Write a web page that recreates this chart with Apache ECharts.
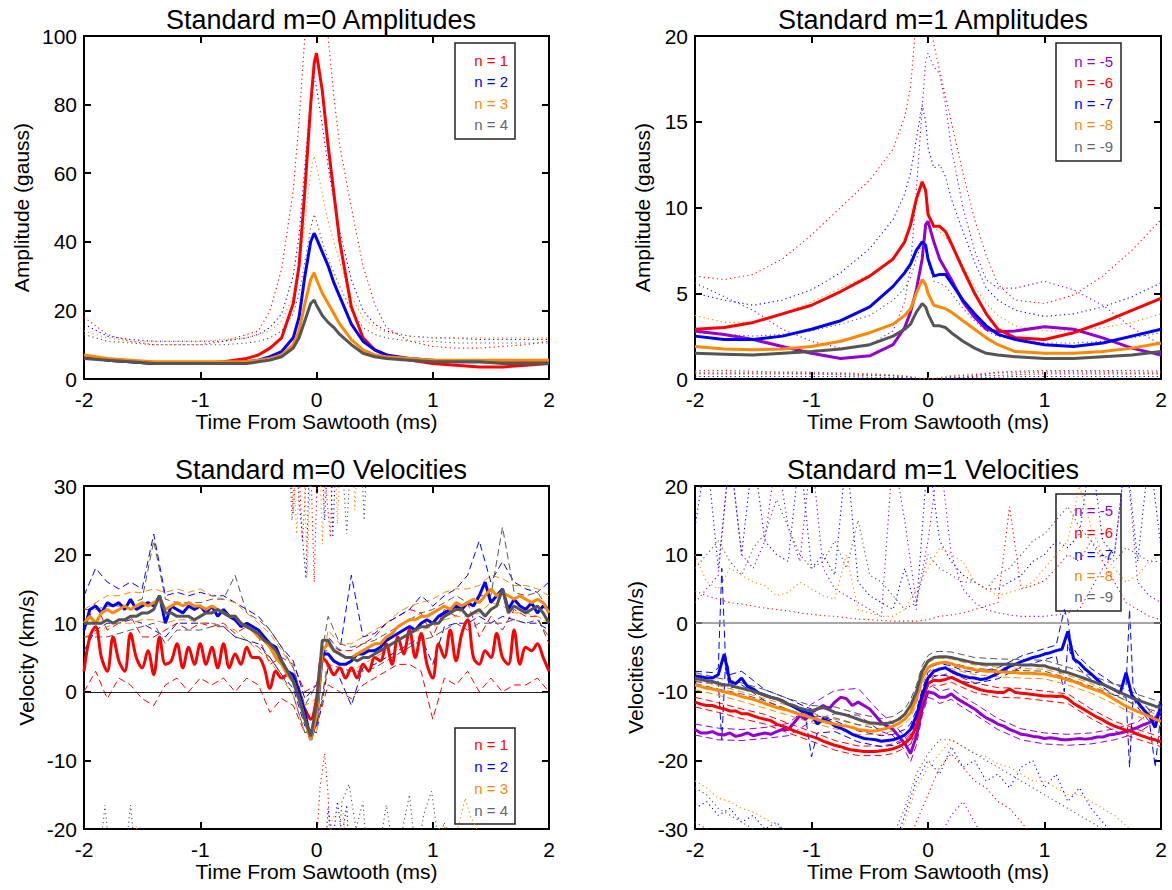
<!DOCTYPE html>
<html><head><meta charset="utf-8">
<script src="https://cdn.jsdelivr.net/npm/echarts@6/dist/echarts.min.js"></script>
<style>html,body{margin:0;padding:0;background:#fff}#c{width:1172px;height:890px}</style>
</head><body><div id="c"></div>
<script>
// ================= DATA =================
const xTicks = [-2, -1, 0, 1, 2];
// ---- Panel 1: Standard m=0 Amplitudes ----
const t1 = [-2,-1.8,-1.6,-1.4,-1.2,-1,-0.8,-0.6,-0.5,-0.4,-0.3,-0.2,-0.15,-0.1,-0.05,-0.02,0,0.05,0.1,0.15,0.2,0.3,0.4,0.5,0.6,0.8,1,1.2,1.4,1.6,1.8,2];
const p1_n1 = [6.5,5.5,5,4.5,4.5,4.5,5,6,7,9,12,22,33,55,80,92,95,84,68,54,40,21,12,8.5,7,5.5,4.5,4,3.5,3.5,4,4.5];
const p1_n2 = [6.5,5.5,5,4.5,4.5,4.5,4.5,5,5.5,6.5,8,12,18,30,40,42.5,41,37,33,28,24,16,11,8.5,7,6,5.5,5,5,5,5,5];
const p1_n3 = [7,6,5.5,5,5,5,5,5,5.5,6,7,10,14,22,29,31,29,25,22,19,16,11.5,8.5,7,6.5,6,5.5,5.5,5.5,5.5,5.5,5.5];
const p1_n4 = [6,5.5,5,4.5,4.5,4.5,4.5,4.5,5,5.5,6.5,9,12,17,22,23,21.5,18.5,16.5,15,13,10,7.5,6.5,6,5.5,5,5,5,4.5,4.5,4.5];
const p1_n1_dot = [18,13,11,10,10,10,11,13,14,20,32,55,75,100,130,138,140,130,100,82,68,50,33,22,15,11,9.5,9,9,9.5,10,11];
const p1_n2_dot = [16,12.5,11.5,11,11,11,11,12,13,15,19,30,42,62,82,88,85,74,62,52,43,29,20,16,14,12.5,12,12,11.5,11.5,11.5,11.5];
const p1_n3_dot = [14,12,11,11,11,11,11.5,12,13,14,17,24,32,45,60,65,62,54,46,40,34,24,18,15,13.5,12.5,12,12,12,12,12,12];
const p1_n4_dot = [13,11,10.5,10,10,10,10,10.5,11,12,14,19,25,34,44,48,46,40,35,31,27,20,15,13,12,11,11,10.5,10.5,10.5,10.5,10.5];

// ---- Panel 2: Standard m=1 Amplitudes ----
const t2 = [-2,-1.75,-1.5,-1.25,-1,-0.75,-0.5,-0.3,-0.2,-0.15,-0.1,-0.05,-0.02,0,0.05,0.1,0.15,0.2,0.3,0.4,0.5,0.6,0.75,1,1.25,1.5,1.75,2];
const p2_n5 = [2.8,2.6,2.3,1.9,1.5,1.2,1.35,2.0,3.0,3.9,5.2,7.0,9.0,9.2,8.0,7.0,6.4,5.8,4.5,3.6,2.9,2.75,2.8,3.05,2.9,2.4,1.8,1.4];
const p2_n6 = [2.9,3.0,3.3,3.8,4.3,5.1,6.0,7.0,8.0,9.0,10.5,11.5,11.0,9.6,8.9,8.9,8.6,7.9,6.4,5.0,3.8,2.9,2.4,2.3,2.7,3.3,4.0,4.7];
const p2_n7 = [2.5,2.3,2.3,2.5,2.9,3.4,4.2,5.4,6.2,6.7,7.5,8.0,7.8,7.0,6.0,6.1,6.1,5.6,4.6,3.8,3.1,2.6,2.3,2.0,1.9,2.1,2.5,2.9];
const p2_n8 = [1.9,1.75,1.7,1.75,1.9,2.2,2.7,3.2,3.7,4.1,5.0,5.8,5.5,5.0,4.3,4.2,4.1,3.9,3.4,2.9,2.4,2.0,1.6,1.5,1.5,1.6,1.8,2.1];
const p2_n9 = [1.5,1.45,1.4,1.5,1.6,1.75,2.0,2.5,2.9,3.2,3.9,4.4,4.2,3.8,3.1,3.1,3.0,2.7,2.2,1.8,1.5,1.4,1.3,1.2,1.2,1.3,1.4,1.6];
const p2_n5_dot = [5.6,4.8,4.0,2.9,2.2,1.8,2.0,2.8,4.5,6.5,11,15.8,18.5,19,18.2,17.8,16,13.5,10,7.5,5.8,5.3,5.3,5.7,5.2,4.3,3.0,2.0];
const p2_n6_dot = [6.0,5.8,6.1,7.0,8.4,10.0,11.6,13.4,15.3,17,21,24,24,22,19.5,18,16.5,15,12,9.3,7.2,5.5,4.6,4.4,4.9,6.0,7.5,9.3];
const p2_n7_dot = [5.0,4.6,4.3,4.6,5.2,6.2,7.6,9.3,10.8,12,14,16,15,13.5,12.3,12.5,11.8,10.5,8.6,6.8,5.3,4.6,4.0,3.65,3.8,4.2,4.8,5.6];
const p2_n8_dot = [3.7,3.3,3.3,3.8,4.5,5.3,6.1,7.0,8.0,8.8,10,11.5,11,10,8.8,8.6,8.3,7.8,6.6,5.4,4.4,3.7,3.1,2.8,2.8,3.0,3.3,3.8];
const p2_n9_dot = [2.7,2.6,2.5,2.6,2.8,3.2,3.7,4.6,5.3,5.9,7.0,8.0,7.6,6.8,5.7,5.6,5.4,5.0,4.1,3.4,2.8,2.5,2.3,2.1,2.1,2.2,2.4,2.7];
const p2_n5_low = [0.5,0.5,0.45,0.4,0.4,0.35,0.3,0.2,0.05,0,0,0,0,0,0,0,0,0,0.1,0.2,0.3,0.4,0.45,0.5,0.5,0.5,0.5,0.45];
const p2_n6_low = [0.3,0.3,0.3,0.3,0.3,0.25,0.2,0.2,0.15,0.1,0.05,0,0,0,0,0,0.05,0.1,0.1,0.15,0.2,0.2,0.25,0.3,0.3,0.3,0.3,0.3];
const p2_n7_low = [0.15,0.15,0.15,0.15,0.15,0.15,0.1,0.1,0.05,0.05,0,0,0,0,0,0,0,0.05,0.05,0.1,0.1,0.1,0.15,0.15,0.15,0.15,0.15,0.15];
const p2_n8_low = [0.4,0.4,0.4,0.4,0.35,0.35,0.3,0.25,0.2,0.15,0.1,0.05,0.05,0.05,0.05,0.1,0.15,0.2,0.25,0.3,0.35,0.4,0.4,0.45,0.45,0.45,0.4,0.4];
const p2_n9_low = [0.35,0.35,0.35,0.35,0.3,0.3,0.25,0.2,0.15,0.1,0.05,0,0,0,0,0.05,0.1,0.15,0.2,0.25,0.3,0.35,0.35,0.4,0.4,0.4,0.35,0.35];

// ---- time grids for velocity panels ----
const tFine = [-2,-1.95,-1.9,-1.85,-1.8,-1.75,-1.7,-1.65,-1.6,-1.55,
 -1.5,-1.45,-1.4,-1.35,-1.3,-1.25,-1.2,-1.15,-1.1,-1.05,
 -1,-0.95,-0.9,-0.85,-0.8,-0.75,-0.7,-0.65,-0.6,-0.55,
 -0.5,-0.45,-0.4,-0.35,-0.3,-0.25,-0.2,-0.15,-0.1,-0.05,
 0,
 0.05,0.1,0.15,0.2,0.25,0.3,0.35,0.4,0.45,0.5,
 0.55,0.6,0.65,0.7,0.75,0.8,0.85,0.9,0.95,1,
 1.05,1.1,1.15,1.2,1.25,1.3,1.35,1.4,1.45,1.5,
 1.55,1.6,1.65,1.7,1.75,1.8,1.85,1.9,1.95,2];
const tMid = [-2,-1.9,-1.8,-1.7,-1.6,-1.5,-1.4,-1.3,-1.2,-1.1,
 -1,-0.9,-0.8,-0.7,-0.6,-0.5,-0.4,-0.3,-0.2,-0.1,
 0,
 0.1,0.2,0.3,0.4,0.5,0.6,0.7,0.8,0.9,1,
 1.1,1.2,1.3,1.4,1.5,1.6,1.7,1.8,1.9,2];

// ---- Panel 3: Standard m=0 Velocities ----
const p3_n1 = [3,8,9.5,5,3,8,4.5,3,8.5,5, 3.5,6,2.5,8,4,4.5,7,3.5,6.5,4, 7,4,6.5,3.5,7,3.5,5.5,4,6.5,5, 5,3.5,0.5,3,2,2.5,1.5,-1,-2.5,-4, -1, 5,4,2.5,3.5,2,3.5,2,4,3,5, 4.5,7,4,8,5.5,9,5,8.5,4,2, 7,5,9,4.5,8.5,10.5,5,4,6,5, 8.5,5,4,9,4,6.5,6,7,5,3];
const p3_n2 = [9,12,12.5,11.5,13,12.5,13,12,13.5,12, 12.5,13,12.5,14,10,12.5,12,11.5,12.5,12, 12.5,11.5,12.5,11,12,11,10.5,9.5,10,9.5, 9,8,7,6.5,4.5,3,2.5,0,-3,-7, -4, 5.5,5.5,4.5,4,4,4.5,5.5,5.5,6,6, 6.5,7.5,8,8.5,9,9.5,9,10,10.5,10, 11,11.5,12,12.5,12,13,12.5,14,16,13, 14,15,12,13.5,12.5,12,13,11.5,12.5,12];
const p3_n3 = [10,11,10,11.5,12,11.5,12,12.5,12,12.5, 13,12.5,13,13.5,12,12.5,13,12.5,13,12.5, 12.5,12,12.5,12,11.5,11,11,10,9.5,9, 8,7.5,6.5,5,4,2.5,1.5,-1,-4,-7, -3.5, 6,7,6,5.5,5,5,5.5,6,6.5,7, 7,8,8.5,9.5,10,10.5,10.5,11,11,11.5, 12,12.5,12,13,12.5,13,13.5,13,14,15, 14,14.5,14,13.5,14,13.5,13,13.5,13,11.5];
const p3_n4 = [10,10,10,10,10.5,10,10.5,10.5,11,11, 11.5,11.5,12,14,11.5,11.5,11,11,11,10.5, 11,11.5,11.5,12,11.5,11,11,10,9.5,9, 8.5,7.5,7,6,4.5,3,1.5,-1,-4,-6.5, -2, 7.5,7.5,6,5.5,5,5,4.5,5,5,5.5, 6,6.5,7,7.5,8,8.5,9,9.5,9.5,10, 10,11,11.5,12,12,11,11.5,12,11,12, 12.5,15,11.5,12.5,12,11.5,12,12.5,11.5,10];
const p3_n1_up = [9,13,9,10,11,8,8,9,10,9,10,9.5,10,8.5,9.5,8,4,5,4,0,1,7,6,6,7,8,10,11,12,11.5,8,12,11,13,8,11,9,12,11,11,7];
const p3_n1_lo = [0,3,-1,2,1,-1,-2,1,2,0,2,1,2,0,2,1,-3,-1,-2,-6,-5,1,0,-1,1,2,3,4,4,3,-4,2,1,3,0,2,0,1,1,2,0];
const p3_n2_up = [14,18,16,15,16,15,23,14,14.5,14,14.5,14,14,13,12,11,9,6.5,4.5,-1,1,8,6,17,8,8.5,10,11,12,14,12.5,14,15,17,22,16,19,16,15,14.5,16];
const p3_n2_lo = [6,9,10,10,10.5,10,9,8,10,10,10,10,9.5,8,7.5,7,5,2.5,0.5,-5,-6,3.5,2,-2,3.5,4,5,6,7,8,4,9.5,10,10,11,10,11,10.5,10,10,9];
const p3_n3_up = [12,13,14,14,14.5,14.5,15,14.5,15,14.5,15,14,13.5,13,11.5,10,8.5,6,3.5,-2,-1,9,7,7,8,9,10,11.5,12.5,13,13.5,14.5,15,15,15.5,17,16.5,15.5,15.5,15,14];
const p3_n3_lo = [8,8.5,9.5,10,10,10.5,10.5,10,10.5,10.5,10,10,9.5,9,7.5,6,4.5,2,-0.5,-6,-6,5,3.5,3,4,5,6,7.5,8.5,9,9.5,10.5,11,11,11.5,13,12.5,11.5,11.5,11,10];
const p3_n4_up = [12,12,12.5,12.5,13,13.5,22,13.5,13,13,13,13.5,13.5,17,11.5,10.5,9,6.5,3.5,-2,1,11,7,6.5,7,7.5,8.5,9.5,10.5,11.5,12,13,14,13,14,14,24,14.5,14,14.5,12];
const p3_n4_lo = [8,8,8,8.5,9,9.5,10,7,9,9,9,9.5,9.5,8,7.5,6.5,5,2.5,-0.5,-6,-5,4,3.5,3,3,3.5,4.5,5.5,6.5,7.5,8,9,10,9,10,10,10,10.5,10,10.5,8];
const p3_dotTop_n1_t = [-0.25,-0.2,-0.16,-0.12,-0.06,-0.02,0.02,0.08,0.12,0.15,0.2];
const p3_dotTop_n1 = [40,26,36,22,40,16,40,30,22.5,40,40];
const p3_dotTop_n2_t = [-0.2,-0.15,-0.09,-0.05,0.03,0.07,0.11,0.14,0.18,0.24];
const p3_dotTop_n2 = [40,28,16.5,40,40,25,40,22.5,40,40];
const p3_dotTop_n3_t = [-0.22,-0.17,-0.12,-0.08,-0.04,0.02,0.05,0.09,0.15,0.18,0.22,0.3,0.33,0.37];
const p3_dotTop_n3 = [40,23,40,17,40,40,21.5,40,40,24.5,40,40,26.5,40];
const p3_dotTop_n4_t = [-0.25,-0.21,-0.17,0.2,0.26,0.31,0.37,0.41,0.45];
const p3_dotTop_n4 = [40,25,40,40,23,40,40,25,40];
const p3_dotBot_n1_t = [-0.05,0,0.03,0.07,0.1,0.13];
const p3_dotBot_n1 = [-30,-22,-14,-9,-15,-30];
const p3_dotBot_n2_t = [0.05,0.1,0.14,0.18,0.22,0.26,0.3];
const p3_dotBot_n2 = [-30,-17,-22,-16,-21,-16.5,-30];
const p3_dotBot_n3_t = [-1.6,-1.55,-1.5,0.08,0.13,0.18,0.23,0.28,1.0,1.05,1.1,1.2,1.28,1.32,1.38,1.45];
const p3_dotBot_n3 = [-30,-19.5,-30,-30,-19,-17,-17.5,-30,-30,-20,-19.5,-21,-15.5,-18,-20,-30];
const p3_dotBot_n4_t = [-1.9,-1.82,-1.74,-1.68,-1.6,-1.52,0.15,0.22,0.28,0.34,0.4,0.46,0.52,0.6,0.68,0.74,0.8,0.86,0.92,0.99,1.05,1.1,1.15];
const p3_dotBot_n4 = [-30,-16.5,-30,-30,-16.5,-30,-30,-16,-13.5,-20,-16,-30,-25,-16.5,-25,-20,-15,-25,-18,-14.5,-22,-19,-30];

// ---- Panel 4: Standard m=1 Velocities ----
const p4_n5 = [-15.5,-16,-16,-15.8,-16.2,-16.3,-16,-16.5,-16.3,-16, -16.4,-16.2,-16,-16.2,-15.8,-15.5,-15.5,-14.5,-13.5,-14, -13,-12.5,-12,-12.5,-11.5,-10.8,-11,-12,-11.5,-12, -12.5,-13.5,-14.5,-15,-15.5,-16.5,-17.5,-19,-16.5,-12.5, -10, -10.2,-10.8,-10.8,-10.3,-11,-11.5,-12,-12.5,-13.2,-13.8, -14.2,-14.7,-15,-15.5,-15.8,-16.2,-16.3,-16.5,-16.6,-16.8, -16.7,-16.8,-17,-17,-16.9,-16.8,-16.9,-16.8,-16.6,-16.6, -16.3,-16.2,-16,-15.8,-15.5,-15.2,-14.8,-14.5,-13.8,-12.8];
const p4_n6 = [-11.5,-11.8,-12,-12,-12.3,-12.5,-12.8,-12.8,-13.2,-13.2, -13.5,-13.8,-14,-14.2,-14.7,-15,-15.3,-15.7,-16,-16.3, -16.5,-16.8,-17.2,-17.5,-17.8,-18,-18.3,-18.5,-18.6,-18.7, -18.7,-18.7,-18.6,-18.5,-18.3,-18,-17.5,-16.8,-15,-11, -8.8, -8.3,-8.4,-8.2,-7.9,-8.3,-8.7,-9.1,-9.4,-9.7,-9.9, -10,-10.1,-10.1,-9.6,-10.1,-10.2,-10.3,-10.4,-10.5,-10.6, -10.6,-10.7,-10.6,-11,-11.7,-12.2,-12.7,-13.2,-13.7,-14.1, -14.6,-15,-15.3,-15.6,-15.8,-16.2,-16.5,-16.8,-17,-17.3];
const p4_n7 = [-7.7,-7.8,-8,-8,-7.5,-4.5,-8.5,-8.8,-8,-9.2, -9.6,-10.2,-10.5,-10.8,-11,-11.3,-11.8,-12.2,-12.7,-13, -13.3,-14.7,-14,-14.3,-15,-15.3,-15.7,-16.2,-16.5,-16.8, -16.9,-17,-17.2,-17.1,-17,-16.7,-16.3,-15.5,-13.5,-10.5, -8, -7,-6.7,-6.5,-7,-7.4,-7.7,-7.9,-8,-8.2,-8.1, -7.7,-7.3,-6.8,-6.3,-6,-5.6,-5.3,-5,-4.8,-4.5, -4.3,-4,-3.8,-1.2,-5.2,-5.8,-6.7,-7.4,-8.2,-8.9, -9.3,-9.7,-10.2,-7.2,-10.5,-11.5,-12.6,-13.5,-15.2,-11.8];
const p4_n8 = [-9,-9.2,-9.5,-9.6,-9.8,-10,-10.2,-10.4,-10.7,-10.9, -11.1,-11.4,-11.7,-12,-12.3,-12.5,-12.7,-13,-13.3,-13.5, -13.8,-14,-14.3,-14.5,-14.7,-14.9,-15,-15.2,-15.5,-15.6, -15.7,-15.7,-15.5,-15.3,-15,-14.6,-14,-13,-11,-8, -6.5, -6,-5.8,-5.7,-5.9,-6.2,-6.4,-6.6,-6.8,-6.9,-7, -7,-7.1,-7.1,-7.2,-7.2,-7.3,-7.3,-7.3,-7.4,-7.4, -7.6,-7.8,-8,-8.3,-8.5,-8.8,-9.2,-9.5,-9.8,-10.1, -10.6,-11.1,-11.6,-12.1,-12.5,-12.9,-13.2,-13.6,-14,-14.3];
const p4_n9 = [-8,-8.2,-8.4,-8.5,-8.8,-9,-9,-9.3,-9.5,-9.7, -9.9,-10.2,-10.5,-10.8,-11,-11.4,-11.8,-12,-12.4,-12.6, -12.8,-12.5,-12.3,-12.6,-13,-13.2,-13.4,-13.7,-14,-14.3, -14.5,-14.6,-14.7,-14.6,-14.4,-14,-13.3,-12,-10,-7, -5.5, -5,-4.9,-4.9,-5,-5.2,-5.4,-5.6,-5.8,-5.9,-6, -6,-6,-6,-6,-6,-6.1,-6.1,-6.1,-6.2,-6.2, -6.5,-6.7,-7,-7.2,-7.5,-7.8,-8.1,-8.4,-8.7,-8.9, -9.3,-9.7,-10.1,-10.5,-10.9,-11.2,-11.5,-11.8,-12.1,-12.3];
const tD4 = [-2,-1.8,-1.6,-1.4,-1.2,-1,-0.8,-0.6,-0.4,-0.3,-0.2,-0.15,-0.1,-0.05,0,0.05,0.1,0.2,0.3,0.4,0.6,0.8,1,1.2,1.4,1.6,1.8,2];
const p4_n5_up = [-14.7,-15.3,-15.5,-15.2,-14.6,-11.8,-9.8,-9.5,-13.2,-14.6,-16.5,-17.8,-15.2,-11.5,-9.2,-9.3,-9.9,-9.5,-10.7,-11.7,-13.9,-15.4,-16,-16.2,-16,-15.4,-14.4,-11.8];
const p4_n5_lo = [-16.3,-17,-17.1,-16.8,-16.4,-14.3,-13.2,-13.4,-15.8,-16.4,-18.5,-20.2,-17.8,-13.5,-10.8,-11.1,-11.7,-11.1,-12.3,-13.3,-15.5,-17,-17.6,-17.8,-17.6,-17,-16,-13.8];
const p4_n6_up = [-10.8,-11.6,-12.5,-13.3,-14.6,-15.8,-17.1,-17.9,-17.9,-17.6,-16.8,-16,-14.1,-10.2,-8.1,-7.6,-7.7,-7.2,-8,-8.7,-9.4,-9.5,-9.9,-10.3,-12.5,-14.3,-15.5,-16.6];
const p4_n6_lo = [-12.2,-13,-13.9,-14.7,-16,-17.2,-18.5,-19.3,-19.3,-19,-18.2,-17.6,-15.9,-11.8,-9.5,-9,-9.1,-8.6,-9.4,-10.1,-10.8,-10.9,-11.3,-11.7,-13.9,-15.7,-16.9,-18];
const p4_n8_up = [-8.3,-9.1,-10,-11,-12,-13.1,-14,-14.8,-14.8,-14.3,-13.3,-12.2,-10.2,-7.2,-5.8,-5.3,-5.1,-5.2,-5.7,-6.1,-6.4,-6.6,-6.7,-7.6,-8.8,-10.4,-12.2,-13.6];
const p4_n8_lo = [-9.7,-10.5,-11.4,-12.4,-13.4,-14.5,-15.4,-16.2,-16.2,-15.7,-14.7,-13.8,-11.8,-8.8,-7.2,-6.7,-6.5,-6.6,-7.1,-7.5,-7.8,-8,-8.1,-9,-10.2,-11.8,-13.6,-15];
const p4_n9_up = [-7.2,-8,-8.7,-9.7,-11,-12,-12.2,-13.2,-13.9,-13.6,-12.5,-11.1,-9.1,-6.2,-4.7,-4.2,-4.1,-4.2,-4.6,-5,-5.2,-5.3,-5.4,-6.4,-7.6,-8.9,-10.4,-11.5];
const p4_n9_lo = [-8.8,-9.6,-10.3,-11.3,-12.6,-13.6,-13.8,-14.8,-15.5,-15.2,-14.1,-12.9,-10.9,-7.8,-6.3,-5.8,-5.7,-5.8,-6.2,-6.6,-6.8,-6.9,-7,-8,-9.2,-10.5,-12,-13.1];
const tB4 = [-2,-1.85,-1.8,-1.77,-1.74,-1.7,-1.6,-1.4,-1.2,-1.05,-1,-0.95,-0.8,-0.6,-0.4,-0.3,-0.2,-0.15,-0.1,-0.05,0,0.05,0.1,0.2,0.3,0.4,0.6,0.8,1,1.1,1.17,1.2,1.23,1.3,1.4,1.6,1.7,1.73,1.76,1.8,1.9,1.95,2];
const p4_n7_up = [-7,-7.2,-6.5,8,-4.5,-7.5,-7,-9.7,-11,-12.2,-12.5,-13.5,-14.2,-15.7,-16.4,-16.2,-15.5,-14.7,-12.7,-9.7,-7.2,-6.2,-5.9,-6.2,-6.9,-7.2,-6.5,-4.8,-3.7,-3.2,2,0.5,-3.2,-5,-6.6,-8.9,-9.2,2,-9.2,-10.7,-12.7,-14.4,-10.5];
const p4_n7_lo = [-8.5,-8.8,-8.5,-17,-6.5,-9.5,-9,-11.3,-12.6,-13.8,-19.5,-16,-15.8,-17.3,-18,-17.8,-17.1,-16.3,-14.3,-11.3,-8.8,-7.8,-7.5,-7.8,-8.5,-8.8,-8.1,-6.4,-5.3,-4.8,-10,-3,-4.8,-6.6,-8.2,-10.5,-10.8,-21,-10.8,-12.3,-14.3,-21,-13];
const p4_n5_dotUp = [3,5,7,25,10,8,12,25,14,9, 25,8,5,4,3,2,1,25,15,3, 12, 25,10,5,3,2,1.5,1.2,1,1,1, 1.2,1.5,2,5,8,10,25,6,4,3];
const p4_n6_dotUp = [4.7,4,3.5,3,2.8,2.5,2.2,2,1.8,1.5, 1.3,1.1,1,0.8,0.6,0.5,0.4,0.3,0.3,0.3, 0.5, 1,1.2,1.5,2,2.5,3,17,5,5.5,6.2, 8,10,9,12,9,6,3,2,1,0.5];
const p4_n7_dotUp = [14,25,8,25,10,25,12,10,9,25, 8,10,7,25,6,4,3,2,8,2, 25, 12,9,7,6,5,5,6,7,9,10, 12,11,13,25,12,10,25,9,25,11];
const p4_n8_dotUp = [10,6,5,8,7,6,5.5,4,4.5,6, 5,4,3.5,10,2,1.5,1,1,2,5, 8, 11,10,9,6,5,4,4.5,5,6,8, 10,12,20,14,10,8,6,7,9,10];
const p4_n9_dotUp = [8,10,12,9,7,11,13,18,14,10, 8,9,12,8,15,7,6,4,2,3, 10, 8,7,6,6,5,7,8,10,12,13, 15,17,14,12,10,9,11,10,9,9];
const p4_n5_dotLo = [-29,-30,-31,-30,-32,-33,-34,-35,-35,-35, -35,-35,-35,-35,-35,-35,-35,-35,-35,-33, -30, -31,-28,-26,-29,-32,-34,-35,-35,-35,-35, -35,-35,-35,-35,-35,-35,-35,-35,-35,-35];
const p4_n6_dotLo = [-30,-31,-32,-33,-34,-35,-35,-35,-35,-35, -35,-35,-35,-35,-35,-35,-35,-35,-33,-29, -25, -21,-19,-21,-23,-24,-26,-27,-29,-31,-33, -35,-35,-35,-35,-35,-35,-35,-35,-35,-35];
const p4_n7_dotLo = [-27,-26,-28,-27,-29,-28,-30,-29,-31,-33, -35,-35,-35,-35,-35,-35,-35,-33,-28,-23, -20, -22,-18,-21,-20,-23,-22,-24,-21,-20,-24, -22,-26,-24,-27,-29,-31,-33,-35,-35,-35];
const p4_n8_dotLo = [-23,-24,-25.5,-26,-27,-27.5,-28.5,-29.5,-30.5,-32, -33,-34,-35,-35,-35,-35,-35,-33,-29,-24, -21, -19,-17,-18,-19,-19.5,-20.5,-21,-22,-23,-23, -24,-25,-25,-26,-27,-28,-29.5,-31,-33,-34];
const p4_n9_dotLo = [-24,-25,-27,-28,-29,-30,-31,-32,-33,-34, -35,-35,-35,-35,-35,-35,-34,-31,-27,-22, -19, -17,-17,-18,-19,-20,-21,-22,-23,-24,-25, -26,-27,-28,-29,-30,-31,-32,-33,-34,-35];

// legend labels
const leg1 = ['n = 1','n = 2','n = 3','n = 4'];
const leg2 = ['n = -5','n = -6','n = -7','n = -8','n = -9'];

// ================= STYLE / BUILD =================
const FONT = '"Liberation Sans", Arial, Helvetica, sans-serif';
const C = {red:'#ff0000', blue:'#0000ff', orange:'#ff8800', gray:'#555555', purple:'#9400d3'};
const LEGC = {red:'#ff0000', blue:'#0000ff', orange:'#ff8800', gray:'#666666', purple:'#9400d3'};
const DOT = [1.2, 3.2], DASH = [7, 4];
const grids = [
  {left:84, top:36, width:465, height:343},
  {left:695, top:36, width:466, height:343},
  {left:84, top:486, width:465, height:343},
  {left:695, top:486, width:466, height:343}
];
function pair(t, v){ return t.map((x,i)=>[x, v[i]]); }
function ln(g, name, t, v, color, width, type, z, extra){
  return Object.assign({type:'line', name, xAxisIndex:2*g, yAxisIndex:2*g, data:pair(t,v),
    symbol:'none', showSymbol:false, silent:true, animation:false, clip:true, z:z,
    lineStyle:{color, width, type}}, extra||{});
}
const series = [];
const dot = (g,t,v,c)=>series.push(ln(g,'',t,v,C[c],1.1,DOT,1));
const dash = (g,t,v,c)=>series.push(ln(g,'',t,v,C[c],1,DASH,2));
const solid = (g,name,t,v,c,extra)=>series.push(ln(g,name,t,v,C[c],3,'solid',3,extra));

// Panel 1
dot(0,t1,p1_n1_dot,'red'); dot(0,t1,p1_n2_dot,'blue'); dot(0,t1,p1_n3_dot,'orange'); dot(0,t1,p1_n4_dot,'gray');
solid(0,leg1[0],t1,p1_n1,'red'); solid(0,leg1[1],t1,p1_n2,'blue'); solid(0,leg1[2],t1,p1_n3,'orange'); solid(0,leg1[3],t1,p1_n4,'gray');
// Panel 2
[[p2_n5_dot,'purple'],[p2_n6_dot,'red'],[p2_n7_dot,'blue'],[p2_n8_dot,'orange'],[p2_n9_dot,'gray']].forEach(a=>dot(1,t2,a[0],a[1]));
[[p2_n5_low,'purple'],[p2_n6_low,'red'],[p2_n7_low,'blue'],[p2_n8_low,'orange'],[p2_n9_low,'gray']].forEach(a=>dot(1,t2,a[0],a[1]));
solid(1,leg2[0],t2,p2_n5,'purple'); solid(1,leg2[1],t2,p2_n6,'red'); solid(1,leg2[2],t2,p2_n7,'blue'); solid(1,leg2[3],t2,p2_n8,'orange'); solid(1,leg2[4],t2,p2_n9,'gray');
// Panel 3
series.push(ln(2,'',[],[], '#000',1,'solid',1,{markLine:{silent:true,symbol:'none',label:{show:false},animation:false,lineStyle:{color:'#222',width:1,type:'solid'},data:[{yAxis:0}]}}));
dot(2,p3_dotTop_n1_t,p3_dotTop_n1,'red'); dot(2,p3_dotTop_n2_t,p3_dotTop_n2,'blue'); dot(2,p3_dotTop_n3_t,p3_dotTop_n3,'orange'); dot(2,p3_dotTop_n4_t,p3_dotTop_n4,'gray');
dot(2,p3_dotBot_n1_t,p3_dotBot_n1,'red'); dot(2,p3_dotBot_n2_t,p3_dotBot_n2,'blue'); dot(2,p3_dotBot_n3_t,p3_dotBot_n3,'orange'); dot(2,p3_dotBot_n4_t,p3_dotBot_n4,'gray');
dash(2,tMid,p3_n1_up,'red'); dash(2,tMid,p3_n1_lo,'red');
dash(2,tMid,p3_n2_up,'blue'); dash(2,tMid,p3_n2_lo,'blue');
dash(2,tMid,p3_n3_up,'orange'); dash(2,tMid,p3_n3_lo,'orange');
dash(2,tMid,p3_n4_up,'gray'); dash(2,tMid,p3_n4_lo,'gray');
solid(2,leg1[0],tFine,p3_n1,'red',{smooth:0.35}); solid(2,leg1[1],tFine,p3_n2,'blue'); solid(2,leg1[2],tFine,p3_n3,'orange'); solid(2,leg1[3],tFine,p3_n4,'gray');
// Panel 4
series.push(ln(3,'',[],[], '#000',1,'solid',1,{markLine:{silent:true,symbol:'none',label:{show:false},animation:false,lineStyle:{color:'#888',width:1.5,type:'solid'},data:[{yAxis:0}]}}));
[[p4_n5_dotUp,'purple'],[p4_n6_dotUp,'red'],[p4_n7_dotUp,'blue'],[p4_n8_dotUp,'orange'],[p4_n9_dotUp,'gray']].forEach(a=>dot(3,tMid,a[0],a[1]));
[[p4_n5_dotLo,'purple'],[p4_n6_dotLo,'red'],[p4_n7_dotLo,'blue'],[p4_n8_dotLo,'orange'],[p4_n9_dotLo,'gray']].forEach(a=>dot(3,tMid,a[0],a[1]));
dash(3,tD4,p4_n5_up,'purple'); dash(3,tD4,p4_n5_lo,'purple');
dash(3,tD4,p4_n6_up,'red'); dash(3,tD4,p4_n6_lo,'red');
dash(3,tB4,p4_n7_up,'blue'); dash(3,tB4,p4_n7_lo,'blue');
dash(3,tD4,p4_n8_up,'orange'); dash(3,tD4,p4_n8_lo,'orange');
dash(3,tD4,p4_n9_up,'gray'); dash(3,tD4,p4_n9_lo,'gray');
solid(3,leg2[0],tFine,p4_n5,'purple'); solid(3,leg2[1],tFine,p4_n6,'red'); solid(3,leg2[2],tFine,p4_n7,'blue'); solid(3,leg2[3],tFine,p4_n8,'orange'); solid(3,leg2[4],tFine,p4_n9,'gray');

// Axes
const xAxes = [], yAxes = [];
const yCfg = [
  {min:0, max:100, interval:20, name:'Amplitude (gauss)', gap:52},
  {min:0, max:20, interval:5, name:'Amplitude (gauss)', gap:42},
  {min:-20, max:30, interval:10, name:'Velocity (km/s)', gap:47},
  {min:-30, max:20, interval:10, name:'Velocities (km/s)', gap:49}
];
const axLine = {onZero:false, lineStyle:{color:'#000', width:2}};
const axTick = {inside:true, length:7, lineStyle:{color:'#000', width:2}};
const lab = {color:'#000', fontSize:21, fontFamily:FONT};
for (let g=0; g<4; g++){
  xAxes.push({type:'value', gridIndex:g, position:'bottom', min:xTicks[0], max:xTicks[xTicks.length-1], interval:1,
    axisLine:axLine, axisTick:axTick, splitLine:{show:false},
    axisLabel:Object.assign({margin:10, formatter:v=>String(v)}, lab),
    name:'Time From Sawtooth (ms)', nameLocation:'middle', nameGap:32, nameTextStyle:lab});
  xAxes.push({type:'value', gridIndex:g, position:'top', min:xTicks[0], max:xTicks[xTicks.length-1], interval:1,
    axisLine:axLine, axisTick:axTick, splitLine:{show:false}, axisLabel:{show:false}});
  const y = yCfg[g];
  yAxes.push({type:'value', gridIndex:g, position:'left', min:y.min, max:y.max, interval:y.interval,
    axisLine:axLine, axisTick:axTick, splitLine:{show:false},
    axisLabel:Object.assign({margin:7}, lab),
    name:y.name, nameLocation:'middle', nameGap:y.gap, nameTextStyle:lab});
  yAxes.push({type:'value', gridIndex:g, position:'right', min:y.min, max:y.max, interval:y.interval,
    axisLine:axLine, axisTick:axTick, splitLine:{show:false}, axisLabel:{show:false}});
}

// Titles
const titleStyle = {color:'#000', fontSize:27, fontWeight:'normal', fontFamily:FONT};
const titles = [
  {text:'Standard m=0 Amplitudes', left:316, top:1},
  {text:'Standard m=1 Amplitudes', left:928, top:1},
  {text:'Standard m=0 Velocities', left:316, top:451},
  {text:'Standard m=1 Velocities', left:928, top:451}
].map(t=>Object.assign(t,{textAlign:'center', textStyle:titleStyle}));

// Legends (boxes with coloured text)
function legendBox(x, y, w, h, labels, colors, rowY, textX){
  const els = [{type:'rect', z:0, shape:{x, y, width:w, height:h}, style:{fill:'rgba(255,255,255,0)', stroke:'#222', lineWidth:1.5}}];
  labels.forEach((s,i)=>els.push({type:'text', z:0, style:{text:s, x:textX, y:rowY[i], fill:LEGC[colors[i]],
    font:'15px '+FONT, textAlign:'right', align:'right', textVerticalAlign:'middle', verticalAlign:'middle'}}));
  return els;
}
const c1 = ['red','blue','orange','gray'], c2 = ['purple','red','blue','orange','gray'];
const graphics = [].concat(
  legendBox(455, 43, 60, 96, leg1, c1, [60,81,103,124], 508),
  legendBox(1056, 43, 65, 118, leg2, c2, [61,82,103,124,146], 1113),
  legendBox(455, 728, 60, 96, leg1, c1, [744,766,788,810], 508),
  legendBox(1056, 494, 65, 117, leg2, c2, [510,532,554,575,596], 1113)
);

const chart = echarts.init(document.getElementById('c'), null, {renderer:'svg', width:1172, height:890});
chart.setOption({
  backgroundColor:'#fff',
  animation:false,
  textStyle:{fontFamily:FONT},
  title:titles,
  grid:grids,
  xAxis:xAxes,
  yAxis:yAxes,
  graphic:{elements:graphics},
  series:series
});
</script>
</body></html>
